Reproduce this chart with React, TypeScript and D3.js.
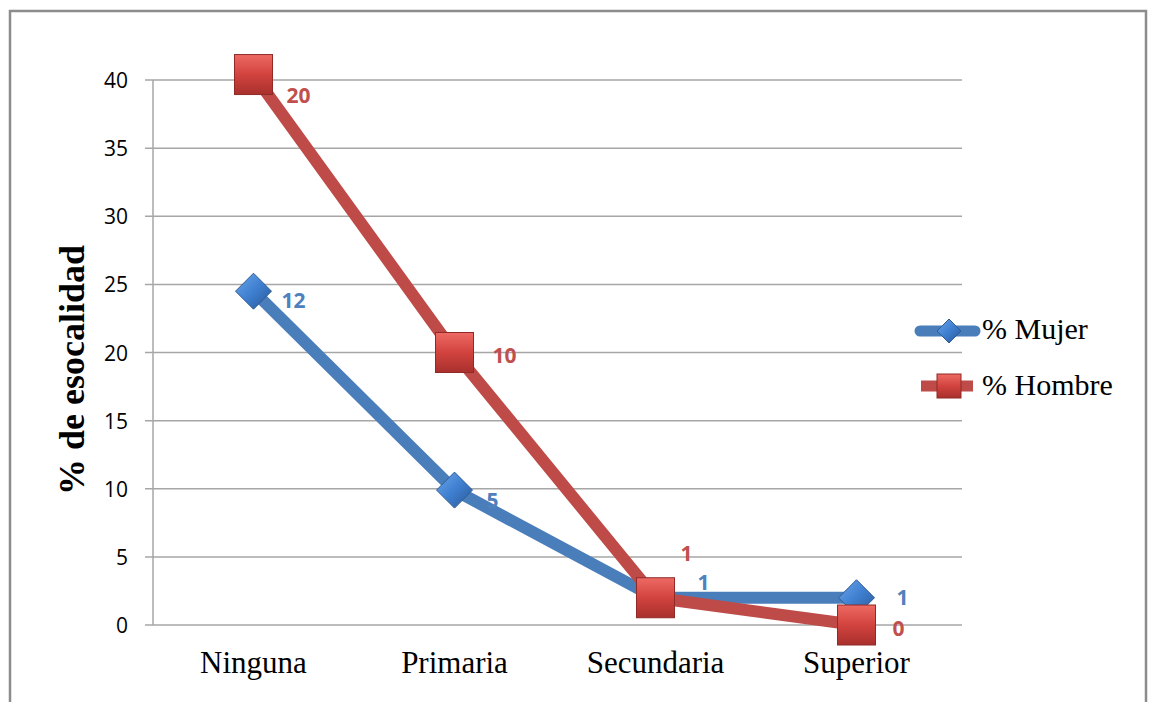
import React from "react";
import * as d3 from "d3";

const categories = ["Ninguna", "Primaria", "Secundaria", "Superior"];
const mujerPct = [24.5, 9.9, 2.0, 2.0];
const hombrePct = [40.4, 20.0, 2.0, 0.0];
const mujerCount = ["12", "5", "1", "1"];
const hombreCount = ["20", "10", "1", "0"];
const yTicks = [0, 5, 10, 15, 20, 25, 30, 35, 40];

// per-point label nudges (dx, dy) relative to the marker centre
const mujerNudge = [[28, 17], [32, 18], [42, -8], [40, 7]];
const hombreNudge = [[33, 28], [38, 10], [25, -37], [36, 11]];

const W = 1149;
const H = 702;
const plot = { left: 153, right: 957, top: 80, bottom: 625 };
const BLUE = "#4a7ebb";
const RED = "#be4b48";

export default function App() {
  const x = d3
    .scaleBand<string>()
    .domain(categories)
    .range([plot.left, plot.right]);
  const y = d3.scaleLinear().domain([0, 40]).range([plot.bottom, plot.top]);
  const cx = (c: string) => (x(c) ?? 0) + x.bandwidth() / 2;

  const line = d3
    .line<number>()
    .x((_, i) => cx(categories[i]))
    .y((d) => y(d));

  const diamond = (px: number, py: number, r: number) =>
    `M${px},${py - r}L${px + r},${py}L${px},${py + r}L${px - r},${py}Z`;

  return (
    <svg
      width={W}
      height={H}
      style={{ position: "absolute", left: 0, top: 0, background: "#fff" }}
    >
      <defs>
        <linearGradient id="gRed" x1="0" y1="0" x2="0" y2="1">
          <stop offset="0" stopColor="#ee6a64" />
          <stop offset="0.5" stopColor="#d2433e" />
          <stop offset="1" stopColor="#a8302d" />
        </linearGradient>
        <linearGradient id="gBlue" x1="0" y1="0" x2="1" y2="1">
          <stop offset="0" stopColor="#6aa6ea" />
          <stop offset="0.5" stopColor="#3f7fd0" />
          <stop offset="1" stopColor="#2a5896" />
        </linearGradient>
      </defs>

      {/* outer frame */}
      <path
        d={`M10,${H} L10,11 L1146,11 L1146,${H}`}
        fill="none"
        stroke="#8c8c8c"
        strokeWidth={2.5}
      />

      {/* gridlines and y ticks */}
      {yTicks.map((t) => (
        <g key={t}>
          <line
            x1={plot.left - 8}
            x2={962}
            y1={y(t)}
            y2={y(t)}
            stroke="#a6a6a6"
            strokeWidth={1.5}
          />
          <text
            x={128}
            y={y(t) + 8}
            textAnchor="end"
            fontFamily="'Open Sans', 'Liberation Sans', sans-serif"
            fontSize={21}
            fill="#000"
          >
            {t}
          </text>
        </g>
      ))}
      <line
        x1={plot.left}
        x2={plot.left}
        y1={plot.top}
        y2={plot.bottom}
        stroke="#a6a6a6"
        strokeWidth={1.5}
      />

      {/* category labels */}
      {categories.map((c) => (
        <text
          key={c}
          x={cx(c)}
          y={673}
          textAnchor="middle"
          fontFamily="'Liberation Serif', 'DejaVu Serif', serif"
          fontSize={31}
          fill="#000"
        >
          {c}
        </text>
      ))}

      {/* y axis title */}
      <text
        transform={`translate(84,${370}) rotate(-90)`}
        textAnchor="middle"
        fontFamily="'Liberation Serif', serif"
        fontWeight="bold"
        fontSize={36}
        fill="#000"
      >
        % de esocalidad
      </text>

      {/* series lines */}
      <path d={line(mujerPct) ?? ""} fill="none" stroke={BLUE} strokeWidth={12} />
      <path d={line(hombrePct) ?? ""} fill="none" stroke={RED} strokeWidth={12} />

      {/* Mujer markers */}
      {mujerPct.map((v, i) => {
        const px = cx(categories[i]);
        const py = y(v);
        return (
          <path
            key={"m" + i}
            d={diamond(px, py, 18)}
            fill="url(#gBlue)"
            stroke="#2f5b93"
            strokeWidth={1}
          />
        );
      })}

      {/* Hombre markers */}
      {hombrePct.map((v, i) => {
        const px = cx(categories[i]);
        const py = y(v);
        return (
          <rect
            key={"h" + i}
            x={px - 19}
            y={py - 20}
            width={38}
            height={40}
            fill="url(#gRed)"
            stroke="#8f2a27"
            strokeWidth={1}
          />
        );
      })}

      {/* data labels */}
      {mujerCount.map((t, i) => (
        <text
          key={"ml" + i}
          x={cx(categories[i]) + mujerNudge[i][0]}
          y={y(mujerPct[i]) + mujerNudge[i][1]}
          fontFamily="'Open Sans', 'Liberation Sans', sans-serif"
          fontWeight="bold"
          fontSize={21}
          fill="#4f81bd"
        >
          {t}
        </text>
      ))}
      {hombreCount.map((t, i) => (
        <text
          key={"hl" + i}
          x={cx(categories[i]) + hombreNudge[i][0]}
          y={y(hombrePct[i]) + hombreNudge[i][1]}
          fontFamily="'Open Sans', 'Liberation Sans', sans-serif"
          fontWeight="bold"
          fontSize={21}
          fill="#c0504d"
        >
          {t}
        </text>
      ))}

      {/* legend */}
      <g>
        <line x1={920} x2={975} y1={331} y2={331} stroke={BLUE} strokeWidth={11} strokeLinecap="round" />
        <path d={diamond(949, 331, 12)} fill="url(#gBlue)" stroke="#2f5b93" strokeWidth={1} />
        <text x={982} y={339} fontFamily="'Liberation Serif', serif" fontSize={30} fill="#000">
          % Mujer
        </text>
        <line x1={921} x2={973} y1={386} y2={386} stroke={RED} strokeWidth={11} />
        <rect x={937} y={374} width={24} height={24} fill="url(#gRed)" stroke="#8f2a27" strokeWidth={1} />
        <text x={982} y={395} fontFamily="'Liberation Serif', serif" fontSize={30} fill="#000">
          % Hombre
        </text>
      </g>
    </svg>
  );
}
